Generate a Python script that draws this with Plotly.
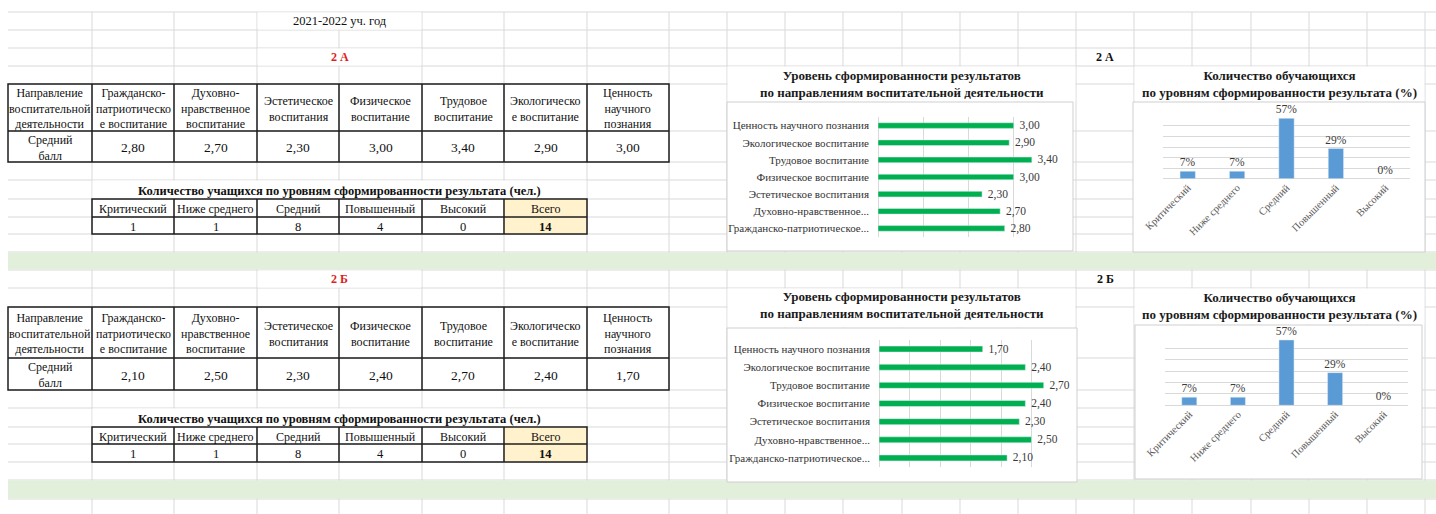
import plotly.graph_objects as go

# ------------------------------------------------------------------ data
year_label = "2021-2022 уч. год"
class_labels = ["2 А", "2 Б"]
direction_headers = [
    "Направление<br>воспитательной<br>деятельности",
    "Гражданско-<br>патриотическо<br>е воспитание",
    "Духовно-<br>нравственное<br>воспитание",
    "Эстетическое<br>воспитания",
    "Физическое<br>воспитание",
    "Трудовое<br>воспитание",
    "Экологическо<br>е воспитание",
    "Ценность<br>научного<br>познания",
]
score_row_label = "Средний<br>балл"
chart_directions = [
    "Гражданско-патриотическое...",
    "Духовно-нравственное...",
    "Эстетическое воспитания",
    "Физическое воспитание",
    "Трудовое воспитание",
    "Экологическое воспитание",
    "Ценность научного познания",
]
scores_2a = [2.80, 2.70, 2.30, 3.00, 3.40, 2.90, 3.00]
scores_2b = [2.10, 2.50, 2.30, 2.40, 2.70, 2.40, 1.70]

count_title = "Количество учащихся по уровням сформированности результата (чел.)"
levels = ["Критический", "Ниже среднего", "Средний", "Повышенный", "Высокий"]
total_label = "Всего"
counts_2a = [1, 1, 8, 4, 0]
counts_2b = [1, 1, 8, 4, 0]
totals = [14, 14]
pct_2a = [7.14, 7.14, 57.14, 28.57, 0.0]
pct_2b = [7.14, 7.14, 57.14, 28.57, 0.0]

hbar_title = "Уровень сформированности результатов<br>по направлениям воспитательной деятельности"
vbar_title = "Количество обучающихся<br>по уровням сформированности результата (%)"

# ------------------------------------------------------------------ geometry / style
W, H = 1436, 514
SERIF = "Liberation Serif, Times New Roman, serif"
GRID = "#d9d9d9"
BORDER = "#1e1e1e"
TXT = "#111111"

col_x = [8, 92, 174, 257, 339, 422, 504, 587, 669, 727, 785, 843, 902, 960,
         1018, 1076, 1134, 1192, 1251, 1309, 1367, 1425]
row_y = [12, 30, 48, 66, 84, 131, 162, 180, 199, 217, 234, 252, 270, 288,
         307, 358, 390, 408, 427, 444, 462, 480, 499]

sections = [
    dict(label=(48, 66), tbl=(84, 131, 162), ctitle=(180, 199), chead=(199, 217),
         cval=(217, 234), green=(252, 270), htitle=(66, 102), hbox=(727, 102, 1073, 251),
         vtitle=(66, 102), vbox=(1133, 102, 1425, 252),
         hplot=(878, 117, 1059, 237), vplot=(1163, 115.3, 1410, 178.7)),
    dict(label=(270, 288), tbl=(307, 358, 390), ctitle=(408, 427), chead=(427, 444),
         cval=(444, 462), green=(480, 499), htitle=(288, 328), hbox=(727, 328, 1077, 482),
         vtitle=(288, 325), vbox=(1135, 325, 1422, 479),
         hplot=(879, 340, 1062, 467), vplot=(1165, 336.7, 1408, 405.3)),
]

shapes = []
annots = []


def line(x0, y0, x1, y1, color=GRID, width=1):
    shapes.append(dict(type="line", xref="x", yref="y", x0=x0, y0=y0, x1=x1, y1=y1,
                       line=dict(color=color, width=width), layer="below"))


def rect(x0, y0, x1, y1, fill, lc=None, lw=0):
    shapes.append(dict(type="rect", xref="x", yref="y", x0=x0, y0=y0, x1=x1, y1=y1,
                       fillcolor=fill, line=dict(color=lc or fill, width=lw),
                       layer="below"))


def text(x, y, s, size=12, color=TXT, bold=False):
    annots.append(dict(xref="x", yref="y", x=x, y=y, text=(f"<b>{s}</b>" if bold else s),
                       showarrow=False, xanchor="center", yanchor="middle", align="center",
                       font=dict(family=SERIF, size=size, color=color), borderpad=0))


def fmt(v):
    return f"{v:.2f}".replace(".", ",")


# spreadsheet grid
for x in col_x[1:]:
    line(x, 12, x, H)
for y in row_y:
    line(8, y, W, y)

# merged cells (hide inner grid)
merged = [(257, 12, 422, 30)]
for s in sections:
    merged.append((257, s["label"][0], 422, s["label"][1]))
    merged.append((92, s["ctitle"][0], 587, s["ctitle"][1]))
for (x0, y0, x1, y1) in merged:
    rect(x0 + 0.6, y0 + 0.6, x1 - 0.6, y1 - 0.6, "white")

for i, s in enumerate(sections):
    rect(8, s["green"][0] + 0.5, W, s["green"][1] - 0.5, "#e2efda")
    rect(727.6, s["htitle"][0] + 0.6, 1075.4, s["htitle"][1] - 0.6, "white")
    rect(1134.6, s["vtitle"][0] + 0.6, 1424.4, s["vtitle"][1] - 0.6, "white")
    hx0, hy0, hx1, hy1 = s["hbox"]
    rect(hx0, hy0, hx1, hy1, "white", "#cfcfcf", 1)
    vx0, vy0, vx1, vy1 = s["vbox"]
    rect(vx0, vy0, vx1, vy1, "white", "#cfcfcf", 1)

    text((257 + 422) / 2, sum(s["label"]) / 2, class_labels[i], 12, "#e01e1e", True)
    text((1076 + 1134) / 2, sum(s["label"]) / 2, class_labels[i], 12, "#111111", True)

    t0, t1, t2 = s["tbl"]
    scores = scores_2a if i == 0 else scores_2b
    for c in range(8):
        cx = (col_x[c] + col_x[c + 1]) / 2
        text(cx, (t0 + t1) / 2 + 1, direction_headers[c], 12)
        if c == 0:
            text(cx, (t1 + t2) / 2 + 1, score_row_label, 12)
        else:
            text(cx, (t1 + t2) / 2 + 1, fmt(scores[c - 1]), 13.5)
    line(8, t1, 669, t1, BORDER, 1.5)
    for c in range(1, 8):
        line(col_x[c], t0, col_x[c], t2, BORDER, 1.5)
    shapes.append(dict(type="rect", xref="x", yref="y", x0=8, y0=t0, x1=669, y1=t2,
                       line=dict(color=BORDER, width=1.5), layer="below"))

    text(339.5, sum(s["ctitle"]) / 2 + 1, count_title, 12.5, TXT, True)
    h0, h1 = s["chead"]
    v0, v1 = s["cval"]
    rect(504, h0, 587, v1, "#fff2cc")
    counts = counts_2a if i == 0 else counts_2b
    heads = levels + [total_label]
    vals = counts + [totals[i]]
    for c in range(6):
        cx = (col_x[c + 1] + col_x[c + 2]) / 2
        text(cx, (h0 + h1) / 2 + 1, heads[c], 12)
        text(cx, (v0 + v1) / 2 + 1, str(vals[c]), 12.5, TXT, c == 5)
    line(92, h1, 587, h1, BORDER, 1.5)
    for c in range(2, 7):
        line(col_x[c], h0, col_x[c], v1, BORDER, 1.5)
    shapes.append(dict(type="rect", xref="x", yref="y", x0=92, y0=h0, x1=587, y1=v1,
                       line=dict(color=BORDER, width=1.5), layer="below"))

    text((727 + 1076) / 2, sum(s["htitle"]) / 2 + (0 if i == 0 else -3), hbar_title, 13, "#1a1a1a", True)
    text((1134 + 1425) / 2, sum(s["vtitle"]) / 2 + (0 if i == 0 else -1), vbar_title, 13, "#1a1a1a", True)

text((257 + 422) / 2, 21, year_label, 12.5)

# ------------------------------------------------------------------ figure
fig = go.Figure()
fig.add_trace(go.Scatter(x=[], y=[], xaxis="x", yaxis="y", showlegend=False, hoverinfo="skip"))

layout_axes = {}
for i, s in enumerate(sections):
    hx = 2 + 2 * i
    vx = hx + 1
    scores = scores_2a if i == 0 else scores_2b
    pct = pct_2a if i == 0 else pct_2b

    fig.add_trace(go.Bar(
        x=scores, y=chart_directions, orientation="h", marker_color="#00b050",
        width=0.33, texttemplate="\u00a0\u00a0%{x:.2f}", textposition="outside",
        textfont=dict(family=SERIF, size=11.5, color="#3a3a3a"),
        cliponaxis=False, constraintext="none", hoverinfo="skip",
        xaxis=f"x{hx}", yaxis=f"y{hx}", showlegend=False))
    fig.add_trace(go.Bar(
        x=levels, y=pct, marker_color="#5b9bd5", width=0.31,
        texttemplate="%{y:.0f}%", textposition="outside",
        textfont=dict(family=SERIF, size=11.5, color="#3a3a3a"),
        cliponaxis=False, constraintext="none", hoverinfo="skip",
        xaxis=f"x{vx}", yaxis=f"y{vx}", showlegend=False))

    px0, py0, px1, py1 = s["hplot"]
    layout_axes[f"xaxis{hx}"] = dict(domain=[px0 / W, px1 / W], anchor=f"y{hx}",
                                     range=[0, 4 if i == 0 else 3], dtick=1 if i == 0 else 0.5,
                                     showticklabels=False, showgrid=True, gridcolor=GRID,
                                     zeroline=True, zerolinecolor=GRID, zerolinewidth=1,
                                     fixedrange=True, automargin=False)
    layout_axes[f"yaxis{hx}"] = dict(domain=[1 - py1 / H, 1 - py0 / H], anchor=f"x{hx}",
                                     showgrid=False, zeroline=False, ticks="",
                                     ticklabelstandoff=8, automargin=False,
                                     tickfont=dict(family=SERIF, size=11, color="#333333"),
                                     fixedrange=True)
    qx0, qy0, qx1, qy1 = s["vplot"]
    layout_axes[f"xaxis{vx}"] = dict(domain=[qx0 / W, qx1 / W], anchor=f"y{vx}",
                                     tickangle=-45, ticks="", showgrid=False, automargin=False,
                                     tickfont=dict(family=SERIF, size=10.5, color="#595959"),
                                     fixedrange=True)
    layout_axes[f"yaxis{vx}"] = dict(domain=[1 - qy1 / H, 1 - qy0 / H], anchor=f"x{vx}",
                                     range=[0, 60], dtick=10, showticklabels=False,
                                     showgrid=True, gridcolor=GRID, zeroline=True, automargin=False,
                                     zerolinecolor=GRID, zerolinewidth=1, fixedrange=True)

fig.update_layout(
    width=W, height=H, margin=dict(l=0, r=0, t=0, b=0, pad=0, autoexpand=False),
    paper_bgcolor="white", plot_bgcolor="rgba(0,0,0,0)",
    separators=", ", showlegend=False, bargap=0.2,
    xaxis=dict(domain=[0, 1], range=[0, W], visible=False, fixedrange=True, anchor="y",
               automargin=False),
    yaxis=dict(domain=[0, 1], range=[H, 0], visible=False, fixedrange=True, anchor="x",
               automargin=False),
    shapes=shapes, annotations=annots, hovermode=False,
    **layout_axes,
)

fig.write_html("out.html", config={"displayModeBar": False, "staticPlot": True},
               post_script="document.body.style.margin='0';")
